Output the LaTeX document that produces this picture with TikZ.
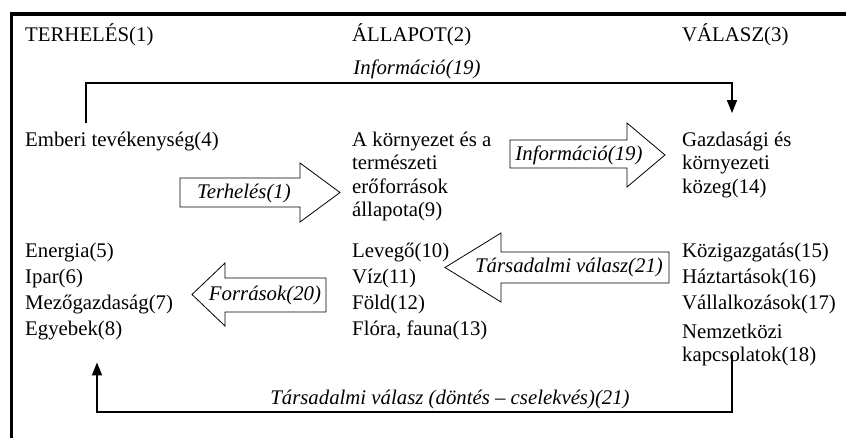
\documentclass[tikz,border=0pt]{standalone}
\usepackage{fontspec}
\setmainfont{Liberation Serif}
\usetikzlibrary{calc,arrows.meta}
\begin{document}
\begin{tikzpicture}[x=1pt,y=-1pt,
  txt/.style={font=\fontsize{20.8}{23.5}\selectfont, inner sep=0pt, anchor=north west, align=left},
  itx/.style={font=\fontsize{20.8}{23.5}\selectfont\itshape, inner sep=0pt, anchor=base},
  conn/.style={line width=1.4pt, -{Triangle[length=13pt,width=10pt]}},
  blk/.style={draw, line width=0.8pt, fill=white, line join=miter}]
\useasboundingbox (0,0) rectangle (846,438);
\fill[white] (0,0) rectangle (846,438);
% frame
\draw[line width=3.2pt, line join=miter] (11.5,440) -- (11.5,14) -- (848,14);
% headers
\node[txt] (terh) at (25,23.55) {\strut TERHELÉS(1)};
\node[txt] (allap) at (352,23.55) {\strut ÁLLAPOT(2)};
\node[txt] (valasz) at (682,23.55) {\strut VÁLASZ(3)};
% top row
\node[txt] (emb) at (25,129.55) {\strut Emberi tevékenység(4)};
\node[txt] (kor) at (352,129.55) {\strut A környezet és a\\természeti\\erőforrások\\állapota(9)};
\node[txt] (gaz) at (682,129.55) {\strut Gazdasági és\\környezeti\\közeg(14)};
% lists
\node[txt] (ene) at (25,240.55) {\strut Energia(5)};
\node[txt] (ipar) at (25,266.55) {\strut Ipar(6)};
\node[txt] (mez) at (25,292.55) {\strut Mezőgazdaság(7)};
\node[txt] (egy) at (25,318.55) {\strut Egyebek(8)};
\node[txt] (lev) at (352,240.55) {\strut Levegő(10)};
\node[txt] (viz) at (352,266.55) {\strut Víz(11)};
\node[txt] (fold) at (352,292.55) {\strut Föld(12)};
\node[txt] (flora) at (352,318.55) {\strut Flóra, fauna(13)};
\node[txt] (kozig) at (682,240.55) {\strut Közigazgatás(15)};
\node[txt] (haz) at (682,266.55) {\strut Háztartások(16)};
\node[txt] (vall) at (682,292.55) {\strut Vállalkozások(17)};
\node[txt] (nemz) at (682,321.55) {\strut Nemzetközi\\kapcsolatok(18)};
% block arrows
\draw[blk] (180,178) -- (300,178) -- (300,163) -- (340,192.5) -- (300,222) -- (300,207) -- (180,207) -- cycle;
\node[itx] (terhA) at (244,199) {Terhelés(1)};
\draw[blk] (510,140) -- (627,140) -- (627,123) -- (665,155) -- (627,187) -- (627,168) -- (510,168) -- cycle;
\node[itx] (infoA) at (579,161) {Információ(19)};
\draw[blk] (669,252) -- (501,252) -- (501,233) -- (445,267.5) -- (501,302) -- (501,283) -- (669,283) -- cycle;
\node[itx] (tarsA) at (569,273) {Társadalmi válasz(21)};
\draw[blk] (326,278) -- (225,278) -- (225,263) -- (192,294.5) -- (225,326) -- (225,312) -- (326,312) -- cycle;
\node[itx] (forrA) at (265,301) {Források(20)};
% connectors
\coordinate (toprail) at (0,83);
\coordinate (botrail) at (0,412);
\coordinate (s1) at ([shift={(61,-6.5)}]emb.north west);
\coordinate (e1) at ([shift={(50,-16.5)}]gaz.north west);
\draw[conn] (s1) -- (s1 |- toprail) -| (e1);
\node[itx] (infoL) at (417,75) {Információ(19)};
\coordinate (s2) at ([shift={(50,-11.5)}]nemz.south west);
\coordinate (e2) at ([shift={(72,20)}]egy.south west);
\draw[conn] (s2) -- (s2 |- botrail) -| (e2);
\node[itx] (tarsL) at (450,404) {Társadalmi válasz (döntés – cselekvés)(21)};
\end{tikzpicture}
\end{document}
